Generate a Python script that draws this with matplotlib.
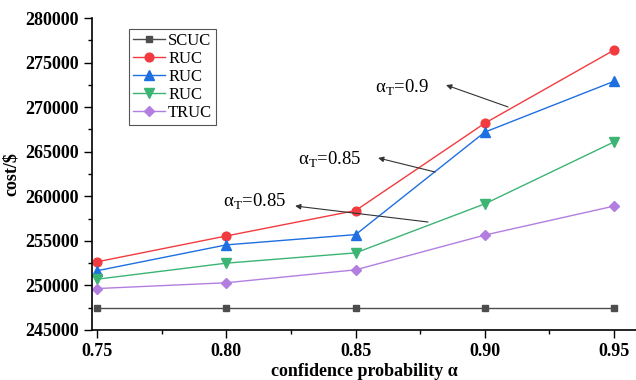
import numpy as np
import matplotlib
matplotlib.use("Agg")
import matplotlib.pyplot as plt
from matplotlib.ticker import MultipleLocator

plt.rcParams['font.family'] = ['Liberation Serif', 'DejaVu Serif']
plt.rcParams['mathtext.fontset'] = 'custom'
plt.rcParams['mathtext.rm'] = 'Liberation Serif'

alpha = [0.75, 0.80, 0.85, 0.90, 0.95]
scuc = [247500, 247500, 247500, 247500, 247500]
ruc_09 = [252650, 255550, 258400, 268200, 276400]
ruc_085a = [251650, 254550, 255700, 267200, 272900]
ruc_085b = [250700, 252500, 253650, 259150, 266100]
truc = [249650, 250300, 251750, 255650, 258900]

series = [
    ("SCUC", scuc, '#4d4d4d', 's', 5),
    ("RUC", ruc_09, '#f23b3f', 'o', 6.3),
    ("RUC", ruc_085a, '#1e6fe0', '^', 6.8),
    ("RUC", ruc_085b, '#3cb474', 'v', 6.8),
    ("TRUC", truc, '#b27ee0', 'D', 5.3),
]

fig = plt.figure(figsize=(6.36, 3.8), dpi=100)
ax = fig.add_axes([0.1447, 0.1316, 0.8553, 0.821])

for name, vals, col, mk, ms in series:
    ax.plot(alpha, vals, color=col, marker=mk, markersize=ms, linewidth=1.0, label=name)

ax.set_xlim(0.748, 0.9585)
ax.set_ylim(245000, 280000)
ax.xaxis.set_minor_locator(MultipleLocator(0.025))
ax.yaxis.set_major_locator(MultipleLocator(5000))
ax.yaxis.set_minor_locator(MultipleLocator(2500))
ax.set_xticks(alpha)
ax.set_xticklabels([f"{a:.2f}" for a in alpha])
ax.spines['top'].set_visible(False)
ax.spines['right'].set_visible(False)
ax.spines['left'].set_linewidth(1.2)
ax.spines['bottom'].set_linewidth(1.2)
ax.tick_params(axis='both', which='major', length=6, width=1.0, labelsize=13)
ax.tick_params(axis='both', which='minor', length=3, width=1.0)
for lab in ax.get_xticklabels() + ax.get_yticklabels():
    lab.set_fontweight('bold')

ax.set_xlabel("confidence probability α", fontsize=13, fontweight='bold', labelpad=2)
ax.set_ylabel("cost/\\$", fontsize=13, fontweight='bold', labelpad=4)

# annotations for the threshold alpha_T: text, text position, arrow head, arrow tail
notes = [
    (r"α$_\mathrm{T}$=0.9", (0.8575, 272150), (0.8850, 272480), (0.9090, 270020)),
    (r"α$_\mathrm{T}$=0.85", (0.8278, 264070), (0.8587, 264300), (0.8808, 262720)),
    (r"α$_\mathrm{T}$=0.85", (0.7987, 259360), (0.8266, 258910), (0.8780, 257115)),
]
for txt, txt_pos, arrow_head, arrow_tail in notes:
    ax.annotate("", xy=arrow_head, xytext=arrow_tail,
                arrowprops=dict(arrowstyle='-|>', color='#333333', lw=0.8,
                                mutation_scale=8, shrinkA=0, shrinkB=0))
    ax.text(txt_pos[0], txt_pos[1], txt, fontsize=13.5, ha='left', va='center')

leg = ax.legend(loc='upper left', bbox_to_anchor=(0.068, 0.965), fontsize=12,
                frameon=True, fancybox=False, edgecolor='#555555', framealpha=1,
                handlelength=1.9, handletextpad=0.2, borderpad=0.25, labelspacing=0.12,
                borderaxespad=0)
leg.get_frame().set_linewidth(0.8)

fig.savefig("out.png", dpi=100)
